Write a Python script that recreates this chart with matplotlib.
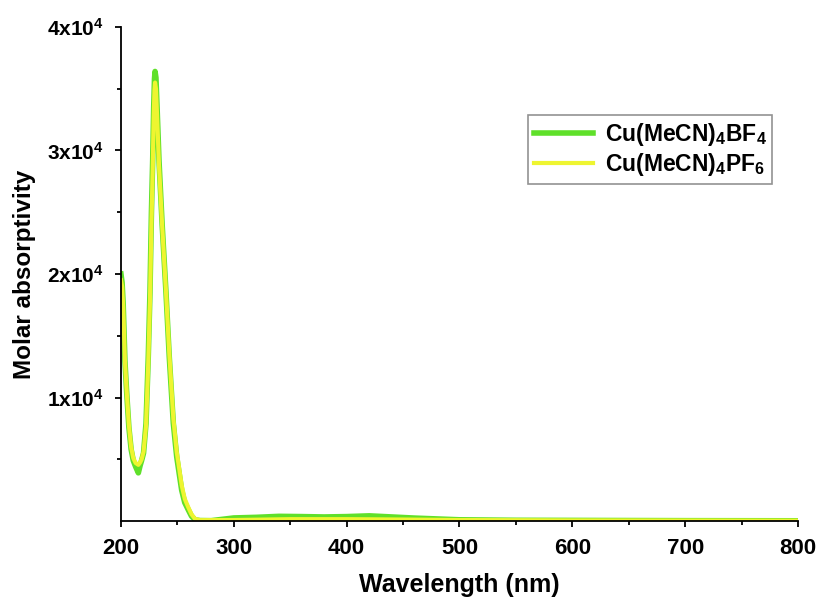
import numpy as np
import matplotlib.pyplot as plt
from matplotlib.ticker import MultipleLocator, FixedLocator

plt.rcParams['font.family'] = 'Liberation Sans'
plt.rcParams['font.weight'] = 'bold'
plt.rcParams['mathtext.fontset'] = 'custom'
plt.rcParams['mathtext.rm'] = 'Liberation Sans:bold'
plt.rcParams['mathtext.bf'] = 'Liberation Sans:bold'
plt.rcParams['mathtext.it'] = 'Liberation Sans:bold'

# Cu(MeCN)4BF4
wl_bf4 = [200, 201, 202, 203.5, 205, 207, 209, 210.9, 213, 215.4, 217, 218.3, 220, 222.2,
          224.2, 225.7, 227, 228.1, 229, 229.7, 230.2, 231, 232, 233.7, 236.5, 239.9, 242.8,
          246.4, 249.4, 253.8, 256.5, 259.7, 262.5, 265.6, 270, 280, 300, 320, 340, 360,
          380, 400, 420, 440, 460, 480, 500, 550, 600, 700, 800]
eps_bf4 = [20000, 19300, 17500, 13000, 10500, 7600, 5800, 4900, 4400, 3900, 4500, 4900,
           5500, 7900, 13300, 18500, 25000, 29200, 33500, 35800, 36400, 35900, 33500, 29200,
           24000, 18500, 13300, 7900, 5200, 2500, 1500, 900, 400, 100, 40, 30, 250, 300,
           380, 360, 330, 360, 420, 330, 240, 170, 100, 60, 50, 30, 20]

# Cu(MeCN)4PF6
wl_pf6 = [200, 201, 202, 203.5, 205, 207, 209, 210.9, 213, 215.4, 217, 218.3, 220, 222.2,
          224.2, 225.7, 227, 228.1, 229, 229.7, 230.2, 231, 232, 233.7, 236.5, 239.9, 242.8,
          246.4, 249.4, 253.8, 256.5, 259.7, 262.5, 265.6, 270, 300, 350, 400, 450, 500,
          600, 700, 800]
eps_pf6 = [19500, 19000, 17300, 13000, 10600, 7800, 6000, 5100, 4700, 4550, 4750, 5000,
           5600, 7700, 12800, 17800, 24200, 28400, 32700, 34900, 35500, 35000, 32800, 28800,
           23900, 18600, 13600, 8300, 5600, 2900, 1800, 1100, 550, 180, 70, 80, 150, 150,
           120, 80, 50, 40, 30]

x_ticks = [200, 300, 400, 500, 600, 700, 800]
y_ticks = [10000, 20000, 30000, 40000]
y_ticklabels = [r'1x10$^4$', r'2x10$^4$', r'3x10$^4$', r'4x10$^4$']

fig = plt.figure(figsize=(8.19, 6.05), dpi=100)
ax = fig.add_axes([0.1477, 0.1388, 0.8267, 0.8166])

ax.plot(wl_bf4, eps_bf4, color='#5fe02a', lw=4.0, label=r'Cu(MeCN)$_4$BF$_4$')
ax.plot(wl_pf6, eps_pf6, color='#eef530', lw=3.0, label=r'Cu(MeCN)$_4$PF$_6$')

ax.set_xlim(200, 800)
ax.set_ylim(0, 40000)
ax.spines['top'].set_visible(False)
ax.spines['right'].set_visible(False)
for s in ('left', 'bottom'):
    ax.spines[s].set_linewidth(1.3)

ax.xaxis.set_major_locator(FixedLocator(x_ticks))
ax.xaxis.set_minor_locator(MultipleLocator(50))
ax.set_xticklabels([str(t) for t in x_ticks], fontsize=16)
ax.yaxis.set_major_locator(FixedLocator(y_ticks))
ax.yaxis.set_minor_locator(FixedLocator([5000, 15000, 25000, 35000]))
ax.set_yticklabels(y_ticklabels, fontsize=15)
ax.tick_params(which='major', direction='out', length=4.5, width=1.3)
ax.tick_params(axis='x', which='major', pad=8)
ax.tick_params(axis='y', which='major', pad=8)
ax.tick_params(which='minor', direction='out', length=3, width=1.3)

ax.set_xlabel('Wavelength (nm)', fontsize=18, fontweight='bold', labelpad=10)
ax.set_ylabel('Molar absorptivity', fontsize=17.5, fontweight='bold', labelpad=8)

leg = ax.legend(loc='upper right', bbox_to_anchor=(0.962, 0.822), fontsize=16.5,
                frameon=True, fancybox=False, handlelength=2.6, handletextpad=0.5,
                borderpad=0.25, labelspacing=0.15, borderaxespad=0)
leg.get_frame().set_edgecolor('#777777')
leg.get_frame().set_linewidth(1.2)

fig.savefig('out.png', dpi=100)
